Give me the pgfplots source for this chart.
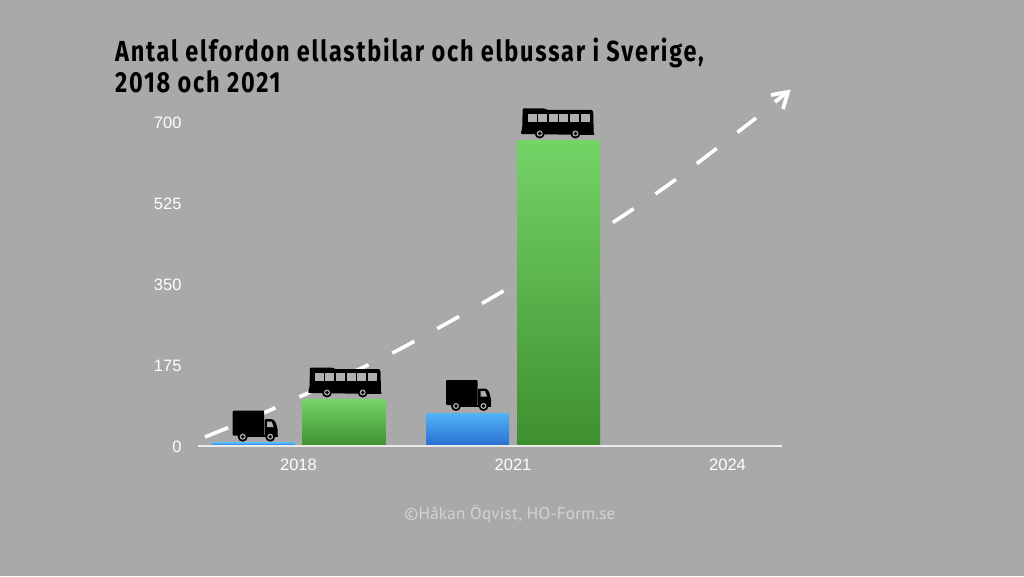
\documentclass[border=0pt]{standalone}
\usepackage{pgfplots}
\pgfplotsset{compat=1.18}
\usepackage{fontspec}
\setmainfont{Liberation Sans}
\newfontfamily\titlefont{Fira Sans}[BoldFont={Fira Sans Bold},LetterSpace=7.5]
\newfontfamily\creditfont{PT Sans}[LetterSpace=1.5]
\definecolor{bg}{HTML}{A8A9A8}
\definecolor{gridc}{HTML}{A3A4A3}
\definecolor{winc}{HTML}{B0B0B0}
\definecolor{bluetop}{RGB}{80,180,245}
\definecolor{bluebot}{RGB}{42,110,208}
\definecolor{greentop}{RGB}{116,212,102}
\definecolor{greenbot}{RGB}{63,143,48}
\definecolor{creditc}{RGB}{210,211,210}
\newcommand{\truck}[2]{%
\begin{scope}[shift={(#1,576-#2)},yscale=-1]
\fill[black,rounded corners=1pt] (0,0) rectangle (31.5,25);
\fill[black,rounded corners=1pt] (32,8.5)--(40,8.5)--(43,11.5)--(45,19)--(45,26)--(32,26)--cycle;
\fill[black] (5,24.5) rectangle (45,26.5);
\fill[winc] (34.5,11)--(39,11)--(41,16.5)--(34.5,16.5)--cycle;
\foreach \wx in {10,37.5}{
\fill[black] (\wx,26) circle (5);
\fill[winc] (\wx,26) circle (3);
\fill[black] (\wx,26) circle (1.9);}
\end{scope}}
\newcommand{\bus}[2]{%
\begin{scope}[shift={(#1,576-#2)},yscale=-1]
\fill[black,rounded corners=1pt] (2,0.5)--(24,0.5)--(27,2)--(71.5,2)--(72.5,4)--(73,25)--(74,27)--(0,26)--(1.5,20)--cycle;
\foreach \k in {0,...,5}{\fill[winc] ({6.8+\k*10.6},6) rectangle ({15.8+\k*10.6},14);}
\foreach \wx in {19,54.7}{
\fill[black] (\wx,25.5) circle (5);
\fill[winc] (\wx,25.5) circle (3);
\fill[black] (\wx,25.5) circle (1.9);}
\end{scope}}
\begin{document}
\begin{tikzpicture}[x=1pt,y=1pt]
\fill[bg] (0,0) rectangle (1024,576);
\begin{axis}[
  at={(198pt,130pt)},anchor=south west,
  scale only axis,width=584pt,height=324pt,
  xmin=198,xmax=782,ymin=0,ymax=700,
  axis x line=bottom,axis y line=left,
  axis line style={-},
  x axis line style={draw=white!92!black,line width=1.4pt},
  y axis line style={draw=none},
  xtick={298.5,513,727.5},xticklabels={2018,2021,2024},
  ytick={0,175,350,525,700},
  ymajorgrids,grid style={gridc,line width=0.6pt},
  major tick length=0pt,
  tick label style={white,font=\fontsize{16.5}{18}\selectfont},
  /pgf/number format/assume math mode=true,
  yticklabel style={xshift=-13pt,yshift=-0.7pt},
  xticklabel style={yshift=-9pt},
  clip=false,
]
\end{axis}
\begin{axis}[
  at={(0pt,0pt)},anchor=south west,
  scale only axis,width=1024pt,height=576pt,
  xmin=0,xmax=1024,ymin=0,ymax=576,y dir=reverse,hide axis,clip=false,
]
\addplot[white,line width=3.6pt,dash pattern=on 25pt off 26.3pt,smooth] coordinates {
(205,437)(275,408)(368,365)(413,342)(505,290)(612,223)(675,180)(756,118)};
\addplot[white,line width=3.8pt,line join=miter,no marks] coordinates {(771,95)(788,92)(783,109)};
\addplot[white,line width=3.8pt,no marks] coordinates {(775,102)(786,93)};
\end{axis}
\begin{axis}[
  at={(198pt,130pt)},anchor=south west,
  scale only axis,width=584pt,height=324pt,
  xmin=198,xmax=782,ymin=0,ymax=700,hide axis,clip=false,
  bar width=83,
]
\addplot[ybar,bar shift=0pt,draw=none,top color=bluetop,bottom color=bluebot] coordinates {(253.5,7)};
\addplot[ybar,bar shift=0pt,draw=none,top color=bluetop,bottom color=bluebot] coordinates {(467.5,71)};
\addplot[ybar,bar shift=0pt,draw=none,top color=greentop,bottom color=greenbot] coordinates {(344,100)};
\addplot[ybar,bar shift=0pt,draw=none,top color=greentop,bottom color=greenbot] coordinates {(558.5,661)};
\addplot[white!92!black,line width=1.4pt,no marks] coordinates {(198,0)(782,0)};
\end{axis}
\truck{232.7}{410.7}
\truck{446}{380}
\bus{308}{367}
\bus{520.7}{108}
\node[anchor=base west,inner sep=0,text=black] at (115,576-62) {\scalebox{0.81}[1]{\titlefont\bfseries\fontsize{29}{30}\selectfont Antal elfordon ellastbilar och elbussar i Sverige,}};
\node[anchor=base west,inner sep=0,text=black] at (115,576-92.5) {\scalebox{0.81}[1]{\titlefont\bfseries\fontsize{29}{30}\selectfont 2018 och 2021}};
\node[anchor=center,inner sep=0,text=creditc] at (510,576-514) {\creditfont\fontsize{17}{18}\selectfont ©Håkan Öqvist, HO-Form.se};
\end{tikzpicture}
\end{document}
